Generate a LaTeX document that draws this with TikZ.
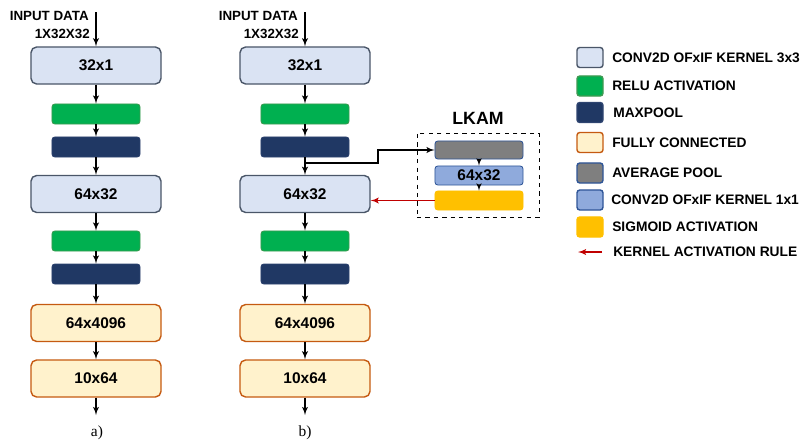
\documentclass[tikz,border=0pt]{standalone}
\usepackage{fontspec}
\setmainfont{Liberation Sans}
\newfontfamily\capfont{Liberation Serif}
\usetikzlibrary{arrows}

\definecolor{convfill}{HTML}{DAE3F3}
\definecolor{convdraw}{HTML}{4A5668}
\definecolor{relufill}{HTML}{00B050}
\definecolor{reludraw}{HTML}{3E9A52}
\definecolor{poolfill}{HTML}{203864}
\definecolor{pooldraw}{HTML}{2E4470}
\definecolor{fcfill}{HTML}{FFF2CC}
\definecolor{fcdraw}{HTML}{C55A11}
\definecolor{avgfill}{HTML}{7F7F7F}
\definecolor{bluedraw}{HTML}{2F5597}
\definecolor{onefill}{HTML}{8FAADC}
\definecolor{sigfill}{HTML}{FFC000}
\definecolor{rulered}{HTML}{C00000}

\begin{document}
\begin{tikzpicture}[x=0.025cm, y=-0.025cm, >=latex',
  every node/.style={inner sep=0pt},
  conv/.style={draw=convdraw, fill=convfill, rounded corners=4pt, line width=1pt,
    minimum width=3.25cm, minimum height=0.925cm, font=\fontsize{11}{13}\selectfont\bfseries},
  fc/.style={conv, draw=fcdraw, fill=fcfill},
  relu/.style={draw=reludraw, fill=relufill, rounded corners=2pt, line width=0.6pt,
    minimum width=2.2cm, minimum height=0.5cm},
  pool/.style={relu, draw=pooldraw, fill=poolfill},
  avg/.style={relu, draw=bluedraw, fill=avgfill, minimum height=0.45cm},
  one/.style={relu, draw=bluedraw, fill=onefill, minimum height=0.475cm,
    font=\fontsize{11}{13}\selectfont\bfseries},
  sig/.style={relu, draw=sigfill, fill=sigfill, minimum height=0.475cm},
  key/.style={rounded corners=2pt, line width=1pt, minimum width=0.65cm, minimum height=0.5cm},
  txt/.style={font=\fontsize{9.5}{11}\selectfont\bfseries},
  keytxt/.style={anchor=west, font=\fontsize{9.8}{12}\selectfont\bfseries},
  sublabel/.style={font=\capfont\fontsize{11}{13}\selectfont},
  flow/.style={->, line width=1pt}]

  \useasboundingbox (0,0) rectangle (803,447);

  %% column a
  \coordinate (ina) at (96,12);
  \node (txta) at (89,16) [anchor=east, txt] {INPUT DATA};
  \node (dima) at (90,34) [anchor=east, txt] {1X32X32};
  \node (c1a) at (96,65.5) [conv] {32x1};
  \node (r1a) at (96,114) [relu] {};
  \node (m1a) at (96,147) [pool] {};
  \node (c2a) at (96,194) [conv] {64x32};
  \node (r2a) at (96,241) [relu] {};
  \node (m2a) at (96,274) [pool] {};
  \node (f1a) at (96,323) [fc] {64x4096};
  \node (f2a) at (96,378.5) [fc] {10x64};
  \coordinate (outa) at (96,415);
  \node (lbla) at (97,433) [sublabel] {a)};

  \draw[flow] (ina) to (c1a);
  \draw[flow] (c1a) to (r1a);
  \draw[flow] (r1a) to (m1a);
  \draw[flow] (m1a) to (c2a);
  \draw[flow] (c2a) to (r2a);
  \draw[flow] (r2a) to (m2a);
  \draw[flow] (m2a) to (f1a);
  \draw[flow] (f1a) to (f2a);
  \draw[flow] (f2a) to (outa);

  %% column b
  \coordinate (inb) at (305,12);
  \node (txtb) at (298,16) [anchor=east, txt] {INPUT DATA};
  \node (dimb) at (299,34) [anchor=east, txt] {1X32X32};
  \node (c1b) at (305,65.5) [conv] {32x1};
  \node (r1b) at (305,114) [relu] {};
  \node (m1b) at (305,147) [pool] {};
  \node (c2b) at (305,194) [conv] {64x32};
  \node (r2b) at (305,241) [relu] {};
  \node (m2b) at (305,274) [pool] {};
  \node (f1b) at (305,323) [fc] {64x4096};
  \node (f2b) at (305,378.5) [fc] {10x64};
  \coordinate (outb) at (305,415);
  \node (lblb) at (305,433) [sublabel] {b)};

  \draw[flow] (inb) to (c1b);
  \draw[flow] (c1b) to (r1b);
  \draw[flow] (r1b) to (m1b);
  \draw[flow] (m1b) to (c2b);
  \draw[flow] (c2b) to (r2b);
  \draw[flow] (r2b) to (m2b);
  \draw[flow] (m2b) to (f1b);
  \draw[flow] (f1b) to (f2b);
  \draw[flow] (f2b) to (outb);

  %% LKAM block
  \node (lkam) at (478,175) [draw, dashed, line width=0.6pt, minimum width=3.05cm, minimum height=2.1cm] {};
  \node (lkamt) at (478,118) [font=\fontsize{12.6}{15}\selectfont\bfseries] {LKAM};
  \node (gap) at (479,150) [avg] {};
  \node (k1x1) at (479,175.5) [one] {64x32};
  \node (sgm) at (479,200.5) [sig] {};
  \coordinate (tap) at (305,163);
  \coordinate (bend) at (378,163);

  \draw[flow] (tap) -- (bend) |- (gap.west);
  \draw[->, line width=0.8pt] (gap) to (k1x1);
  \draw[->, line width=0.8pt] (k1x1) to (sgm);
  \draw[->, rulered, line width=1pt] (sgm.west) to (sgm.west -| c2b.east);

  %% legend
  \node (kconv) at (590,57.5) [key, draw=convdraw, fill=convfill] {};
  \node (lconv) at (612,57.5) [keytxt] {CONV2D OFxIF KERNEL 3x3};
  \node (krelu) at (590,86) [key, draw=reludraw, fill=relufill] {};
  \node (lrelu) at (612,86) [keytxt] {RELU ACTIVATION};
  \node (kpool) at (590,112.5) [key, draw=pooldraw, fill=poolfill] {};
  \node (lpool) at (613,112.5) [keytxt] {MAXPOOL};
  \node (kfc) at (590,142.5) [key, draw=fcdraw, fill=fcfill] {};
  \node (lfc) at (612,142.5) [keytxt] {FULLY CONNECTED};
  \node (kavg) at (590,173) [key, draw=bluedraw, fill=avgfill] {};
  \node (lavg) at (612,173) [keytxt] {AVERAGE POOL};
  \node (kone) at (590,200) [key, draw=bluedraw, fill=onefill] {};
  \node (lone) at (611,200) [keytxt] {CONV2D OFxIF KERNEL 1x1};
  \node (ksig) at (590,227) [key, draw=sigfill, fill=sigfill] {};
  \node (lsig) at (612,227) [keytxt] {SIGMOID ACTIVATION};
  \coordinate (kr1) at (602,252);
  \coordinate (kr2) at (578,252);
  \node (lrule) at (613,252) [keytxt] {KERNEL ACTIVATION RULE};
  \draw[->, rulered, line width=1pt] (kr1) to (kr2);
\end{tikzpicture}
\end{document}
